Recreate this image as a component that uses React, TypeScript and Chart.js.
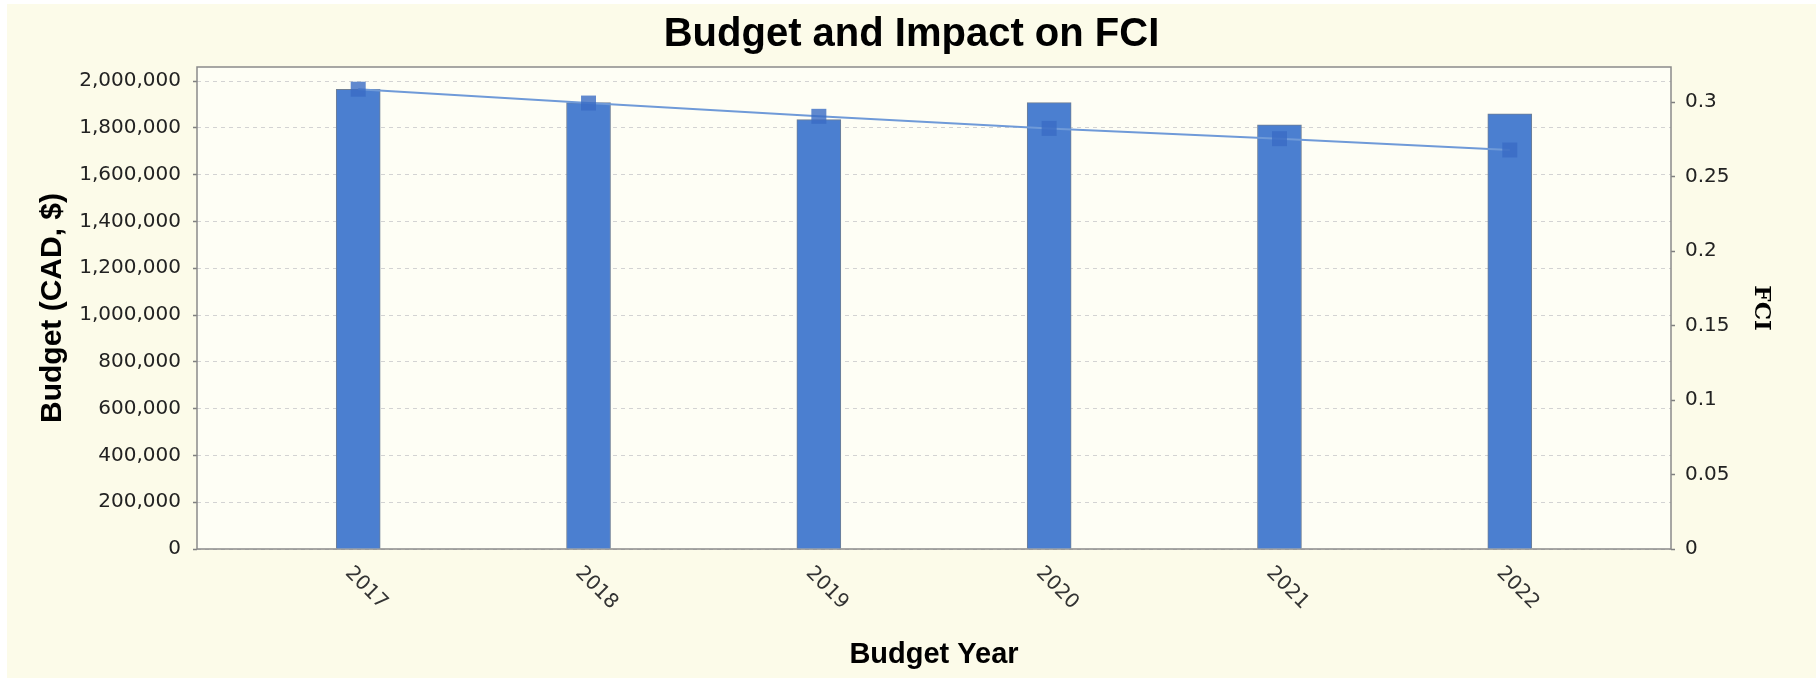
import React, { useEffect, useRef } from 'react';
import { Chart, registerables } from 'chart.js';

Chart.register(...registerables);

const years = ['2017', '2018', '2019', '2020', '2021', '2022'];
const budget = [1965000, 1908000, 1835000, 1908000, 1813000, 1860000];
const fci = [0.3086, 0.2993, 0.2904, 0.2823, 0.2754, 0.2678];

const budgetTicks = [0, 200000, 400000, 600000, 800000, 1000000, 1200000, 1400000, 1600000, 1800000, 2000000];
const budgetMax = 2060000;
const fciTicks = [0, 0.05, 0.1, 0.15, 0.2, 0.25, 0.3];
const fciMax = 0.3235;

const chartTitle = 'Budget and Impact on FCI';
const xTitle = 'Budget Year';
const yTitle = 'Budget (CAD, $)';
const y1Title = 'FCI';

const W = 1809;
const H = 674;

const setTicks = (vals: number[]) => (scale: any) => {
  scale.ticks = vals.map((v) => ({ value: v }));
};

const decorPlugin = {
  id: 'decor',
  beforeDraw(chart: any) {
    const { ctx, chartArea: a, width, height } = chart;
    ctx.save();
    ctx.fillStyle = '#fcfbe9';
    ctx.fillRect(0, 0, width, height);
    ctx.fillStyle = '#fefef5';
    ctx.fillRect(a.left, a.top, a.right - a.left, a.bottom - a.top);
    ctx.restore();
  },
  beforeDatasetsDraw(chart: any) {
    const { ctx, chartArea: a } = chart;
    ctx.save();
    ctx.strokeStyle = '#8a8a8a';
    ctx.lineWidth = 1.5;
    ctx.strokeRect(a.left, a.top, a.right - a.left, a.bottom - a.top);
    ctx.restore();
  },
  afterDraw(chart: any) {
    const { ctx, chartArea: a } = chart;
    const xs = chart.scales.x;
    ctx.save();
    ctx.font = '20px "DejaVu Sans"';
    ctx.fillStyle = '#333333';
    years.forEach((lab, i) => {
      const px = xs.getPixelForValue(i);
      ctx.save();
      ctx.translate(px - 10, a.bottom + 21);
      ctx.rotate(Math.PI / 4);
      ctx.textAlign = 'left';
      ctx.textBaseline = 'middle';
      ctx.fillText(lab, 0, 0);
      ctx.restore();
    });
    ctx.restore();
  },
};

export default function App() {
  const ref = useRef<HTMLCanvasElement | null>(null);

  useEffect(() => {
    if (!ref.current) return;
    const chart = new Chart(ref.current, {
      type: 'bar',
      data: {
        datasets: [
          {
            type: 'line',
            label: 'FCI',
            data: fci.map((v, i) => ({ x: i, y: v })),
            yAxisID: 'y1',
            xAxisID: 'x',
            borderColor: '#6f9ad8',
            borderWidth: 2,
            tension: 0,
            pointStyle: 'rect',
            pointRadius: 10.6,
            pointHoverRadius: 10.6,
            pointBackgroundColor: 'rgba(58,108,196,0.8)',
            pointBorderWidth: 0,
            order: 0,
          } as any,
          {
            type: 'bar',
            label: 'Budget',
            data: budget.map((v, i) => ({ x: i, y: v })),
            yAxisID: 'y',
            xAxisID: 'x',
            backgroundColor: '#4b7fd0',
            borderColor: '#6f7f95',
            borderWidth: 1,
            barThickness: 44,
            order: 1,
          } as any,
        ],
      },
      options: {
        responsive: false,
        animation: false,
        layout: { padding: 0 },
        plugins: {
          legend: { display: false },
          tooltip: { enabled: false },
          title: {
            display: true,
            text: chartTitle,
            color: '#000000',
            font: { family: 'Liberation Sans', size: 40, weight: 'bold' },
            padding: { top: 7, bottom: 8 },
          },
        },
        scales: {
          x: {
            type: 'linear',
            position: 'bottom',
            offset: false,
            min: -0.7,
            max: 5.7,
            grid: { display: false, offset: false },
            border: { display: false },
            ticks: { display: false },
            title: {
              display: true,
              text: xTitle,
              color: '#000000',
              font: { family: 'Liberation Sans', size: 29, weight: 'bold' },
              padding: { top: 0, bottom: 6 },
            },
            afterFit: (s: any) => {
              s.height = 129;
            },
          },
          y: {
            type: 'linear',
            position: 'left',
            min: 0,
            max: budgetMax,
            afterBuildTicks: setTicks(budgetTicks),
            ticks: {
              autoSkip: false,
              padding: 12,
              color: '#222222',
              font: { family: 'DejaVu Sans', size: 20 },
              callback: (v: any) => Number(v).toLocaleString('en-US'),
            },
            grid: {
              color: '#d3d3d3',
              lineWidth: 1,
              tickLength: 4,
              tickColor: '#7f7f7f',
              tickWidth: 1.5,
            },
            border: { display: false, dash: [4, 4] },
            title: {
              display: true,
              text: yTitle,
              color: '#000000',
              font: { family: 'Liberation Sans', size: 30, weight: 'bold' },
              padding: { top: 28, bottom: 0 },
            },
            afterFit: (s: any) => {
              s.width = 190;
            },
          },
          y1: {
            type: 'linear',
            position: 'right',
            min: 0,
            max: fciMax,
            afterBuildTicks: setTicks(fciTicks),
            ticks: {
              autoSkip: false,
              padding: 10,
              color: '#222222',
              font: { family: 'DejaVu Sans', size: 20 },
              callback: (v: any) => String(Math.round(Number(v) * 100) / 100),
            },
            grid: {
              drawOnChartArea: false,
              drawTicks: true,
              tickLength: 4,
              tickColor: '#7f7f7f',
              tickWidth: 1.5,
            },
            border: { display: false },
            title: {
              display: true,
              text: y1Title,
              color: '#000000',
              font: { family: 'DejaVu Serif', size: 23, weight: 'bold' },
              padding: { top: 41, bottom: 0 },
            },
            afterFit: (s: any) => {
              s.width = 145;
            },
          },
        },
      } as any,
      plugins: [decorPlugin],
    });
    return () => chart.destroy();
  }, []);

  return (
    <div
      style={{
        position: 'fixed',
        left: 0,
        top: 0,
        width: 1816,
        height: 678,
        background: '#ffffff',
        overflow: 'hidden',
      }}
    >
      <canvas
        ref={ref}
        width={W}
        height={H}
        style={{ position: 'absolute', left: 7, top: 4, width: W, height: H }}
      />
    </div>
  );
}
